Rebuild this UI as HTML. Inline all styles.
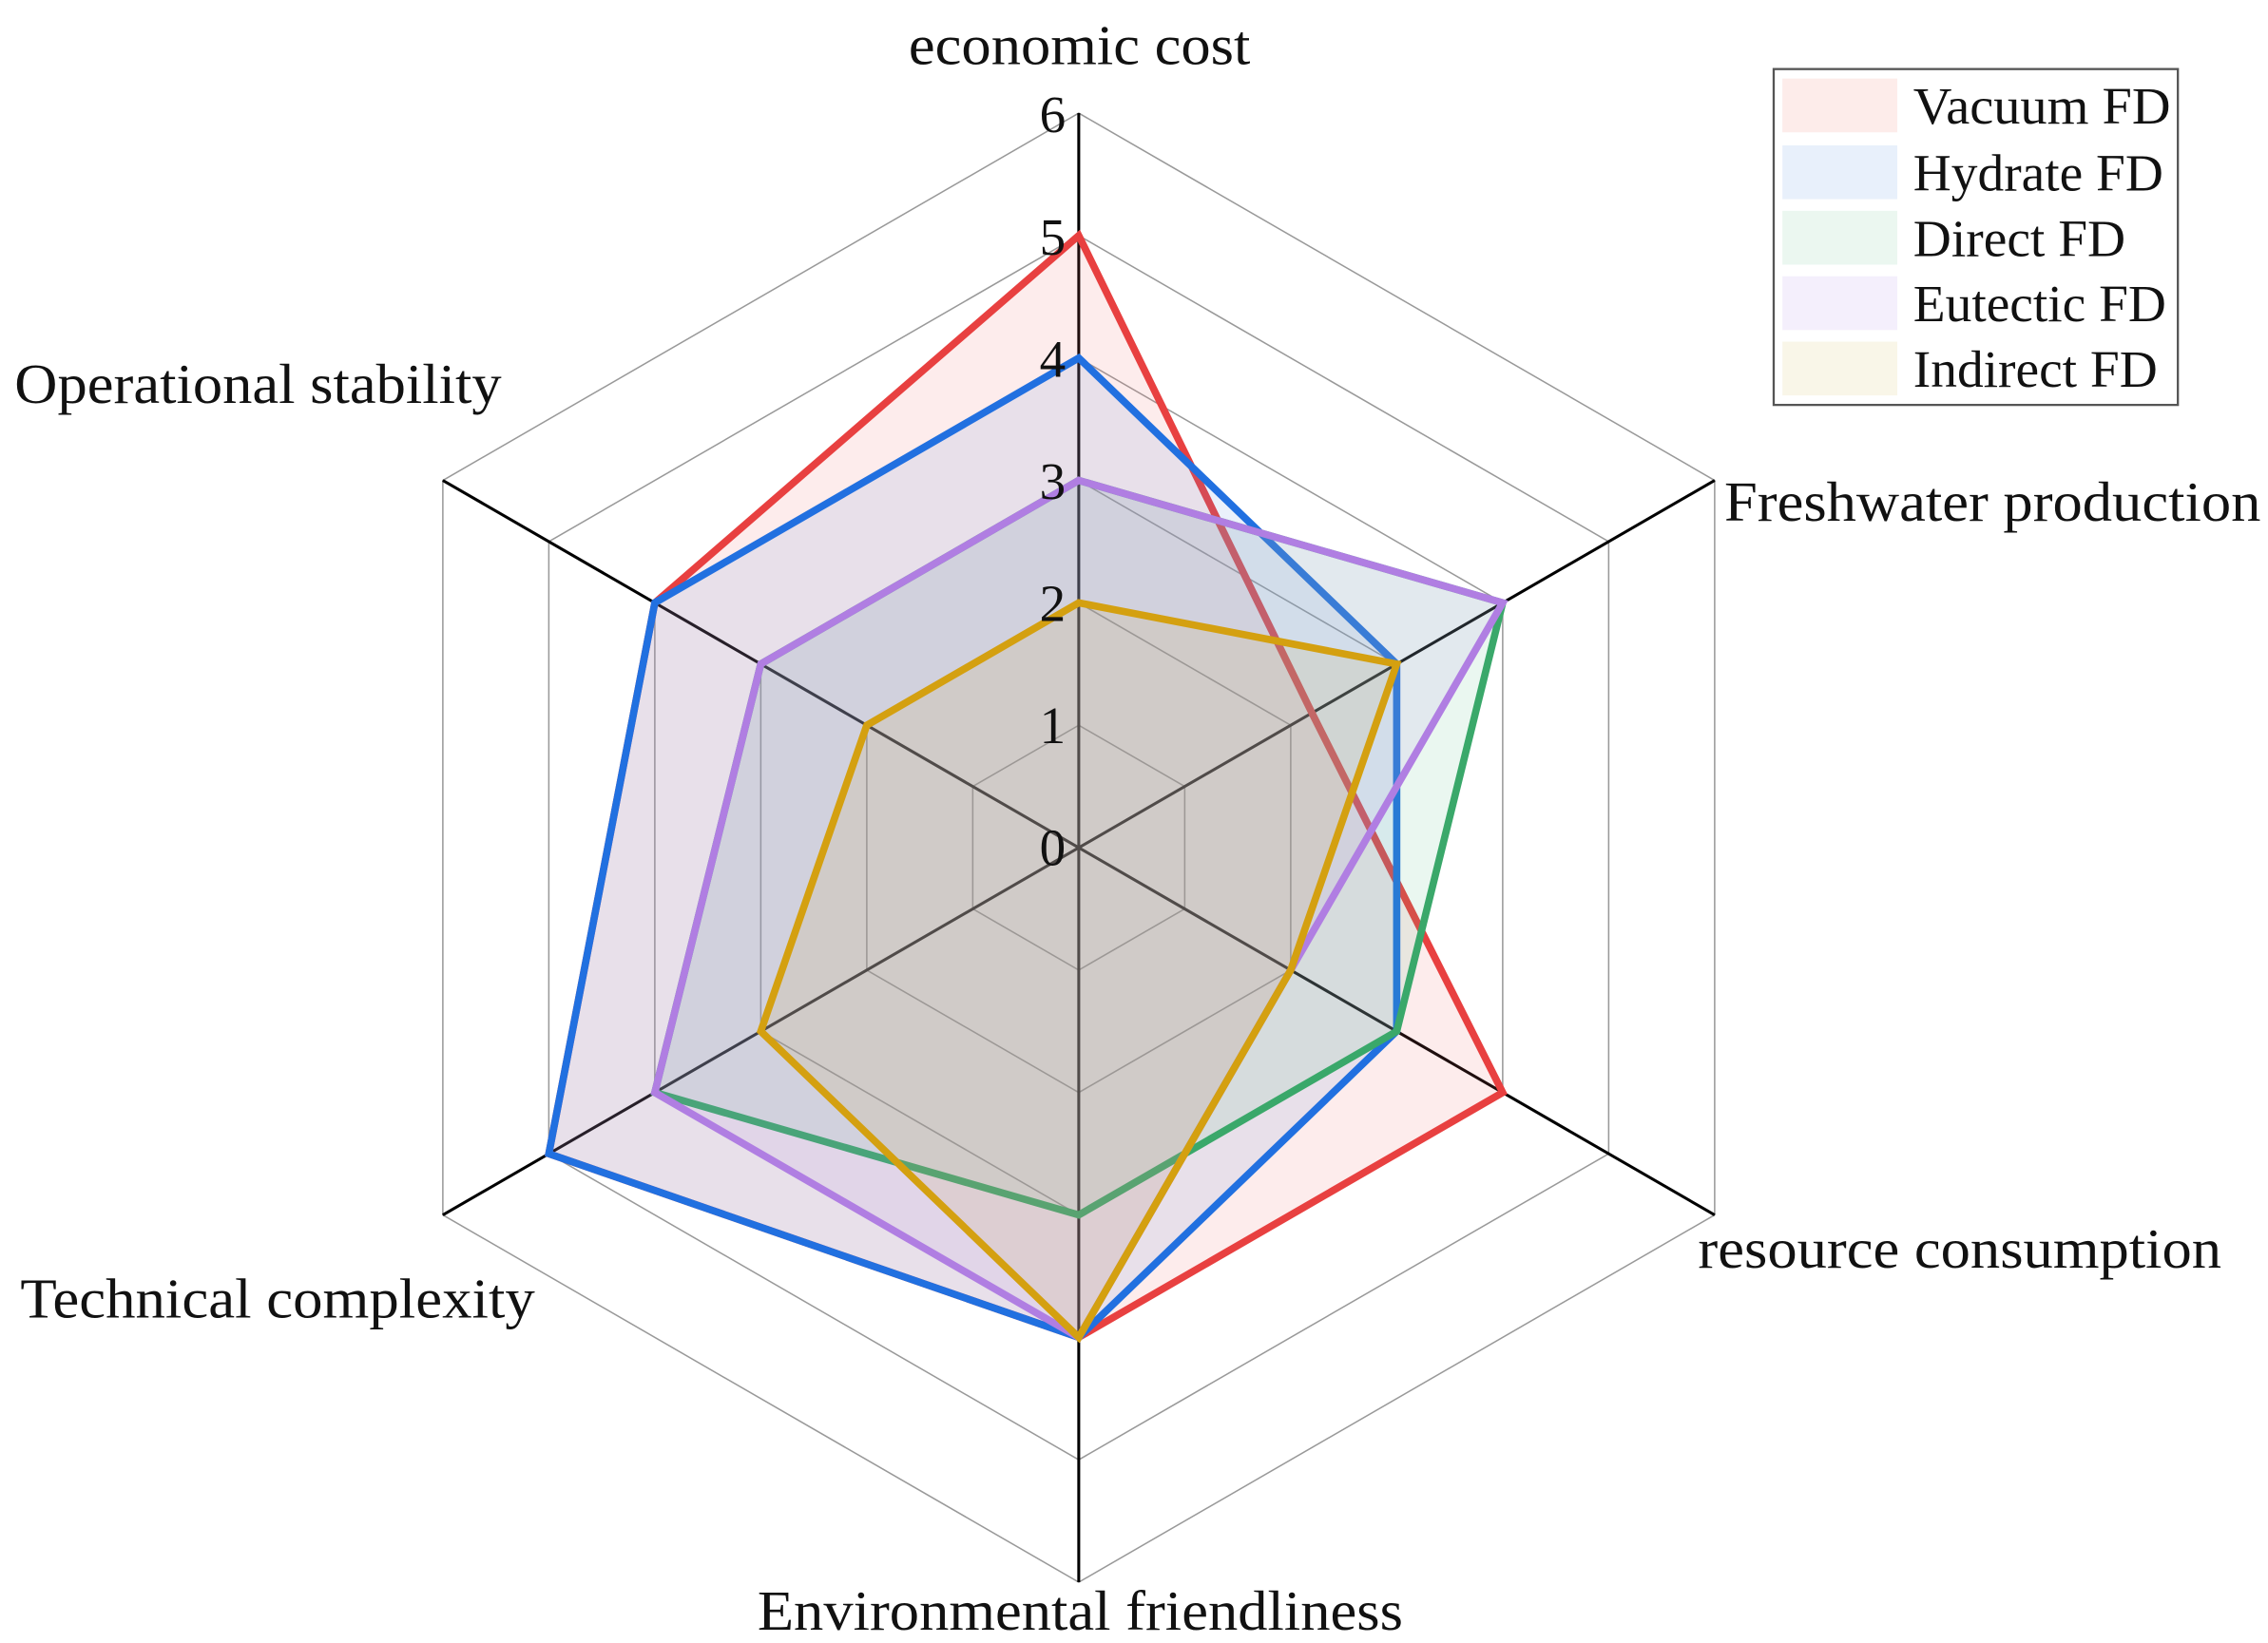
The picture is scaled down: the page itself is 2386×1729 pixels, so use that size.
<!DOCTYPE html>
<html><head><meta charset="utf-8"><style>
html,body{margin:0;padding:0;background:#fff;}
svg{display:block;}
text{font-family:"Liberation Serif",serif;fill:#111;}
</style></head><body>
<svg width="2386" height="1729" viewBox="0 0 1560 1130" preserveAspectRatio="none">
<rect width="1560" height="1130" fill="#fff"/>
<g fill="none" stroke="#999" stroke-width="1">
<polygon points="742,498.8 814.9,540.9 814.9,625.1 742,667.2 669.1,625.1 669.1,540.9"/>
<polygon points="742,414.6 887.8,498.8 887.8,667.2 742,751.4 596.2,667.2 596.2,498.8"/>
<polygon points="742,330.4 960.7,456.7 960.7,709.3 742,835.6 523.3,709.3 523.3,456.7"/>
<polygon points="742,246.2 1033.6,414.6 1033.6,751.4 742,919.8 450.4,751.4 450.4,414.6"/>
<polygon points="742,162 1106.5,372.5 1106.5,793.5 742,1004 377.5,793.5 377.5,372.5"/>
<polygon points="742,77.8 1179.4,330.4 1179.4,835.6 742,1088.2 304.6,835.6 304.6,330.4"/>
</g>
<g stroke="#000" stroke-width="2">
<line x1="742" y1="583" x2="742" y2="77.8"/>
<line x1="742" y1="583" x2="1179.4" y2="330.4"/>
<line x1="742" y1="583" x2="1179.4" y2="835.6"/>
<line x1="742" y1="583" x2="742" y2="1088.2"/>
<line x1="742" y1="583" x2="304.6" y2="835.6"/>
<line x1="742" y1="583" x2="304.6" y2="330.4"/>
</g>
<g stroke-width="5" stroke-linejoin="miter" fill-opacity="0.13">
<polygon points="742,162 902.4,490.4 1033.6,751.4 742,919.8 377.5,793.5 450.4,414.6" stroke="#e84040" fill="#f07070"/>
<polygon points="742,246.2 960.7,456.7 960.7,709.3 742,919.8 377.5,793.5 450.4,414.6" stroke="#2170e0" fill="#5b8fe0"/>
<polygon points="742,330.4 1033.6,414.6 960.7,709.3 742,835.6 450.4,751.4 523.3,456.7" stroke="#3aa86a" fill="#5cbf88"/>
<polygon points="742,330.4 1033.6,414.6 887.8,667.2 742,919.8 450.4,751.4 523.3,456.7" stroke="#b07ee2" fill="#b08de0"/>
<polygon points="742,414.6 960.7,456.7 887.8,667.2 742,919.8 523.3,709.3 596.2,498.8" stroke="#d4a010" fill="#c8a040"/>
</g>
<g font-size="36" text-anchor="end">
<text x="733" y="595">0</text>
<text x="733" y="511">1</text>
<text x="733" y="427">2</text>
<text x="733" y="343">3</text>
<text x="733" y="259">4</text>
<text x="733" y="175">5</text>
<text x="733" y="91">6</text>
</g>
<g font-size="39" lengthAdjust="spacingAndGlyphs">
<text x="625" y="44" textLength="235" lengthAdjust="spacingAndGlyphs">economic cost</text>
<text x="10" y="277" textLength="335" lengthAdjust="spacingAndGlyphs">Operational stability</text>
<text x="1186" y="358" textLength="369" lengthAdjust="spacingAndGlyphs">Freshwater production</text>
<text x="1168" y="872" textLength="360" lengthAdjust="spacingAndGlyphs">resource consumption</text>
<text x="14" y="906" textLength="354" lengthAdjust="spacingAndGlyphs">Technical complexity</text>
<text x="521" y="1121" textLength="444" lengthAdjust="spacingAndGlyphs">Environmental friendliness</text>
</g>
<rect x="1220" y="47.5" width="278" height="231" fill="#fff" stroke="#555" stroke-width="1.5"/>
<g>
<rect x="1226" y="54" width="79" height="37" fill="#fdecea"/>
<rect x="1226" y="100" width="79" height="37" fill="#e8f0fb"/>
<rect x="1226" y="145" width="79" height="37" fill="#ebf7f0"/>
<rect x="1226" y="190" width="79" height="37" fill="#f4effc"/>
<rect x="1226" y="235" width="79" height="37" fill="#f9f6e8"/>
</g>
<g font-size="36">
<text x="1316" y="85" textLength="177" lengthAdjust="spacingAndGlyphs">Vacuum FD</text>
<text x="1316" y="131" textLength="172" lengthAdjust="spacingAndGlyphs">Hydrate FD</text>
<text x="1316" y="176" textLength="146" lengthAdjust="spacingAndGlyphs">Direct FD</text>
<text x="1316" y="221" textLength="174" lengthAdjust="spacingAndGlyphs">Eutectic FD</text>
<text x="1316" y="266" textLength="168" lengthAdjust="spacingAndGlyphs">Indirect FD</text>
</g>
</svg>
</body></html>
